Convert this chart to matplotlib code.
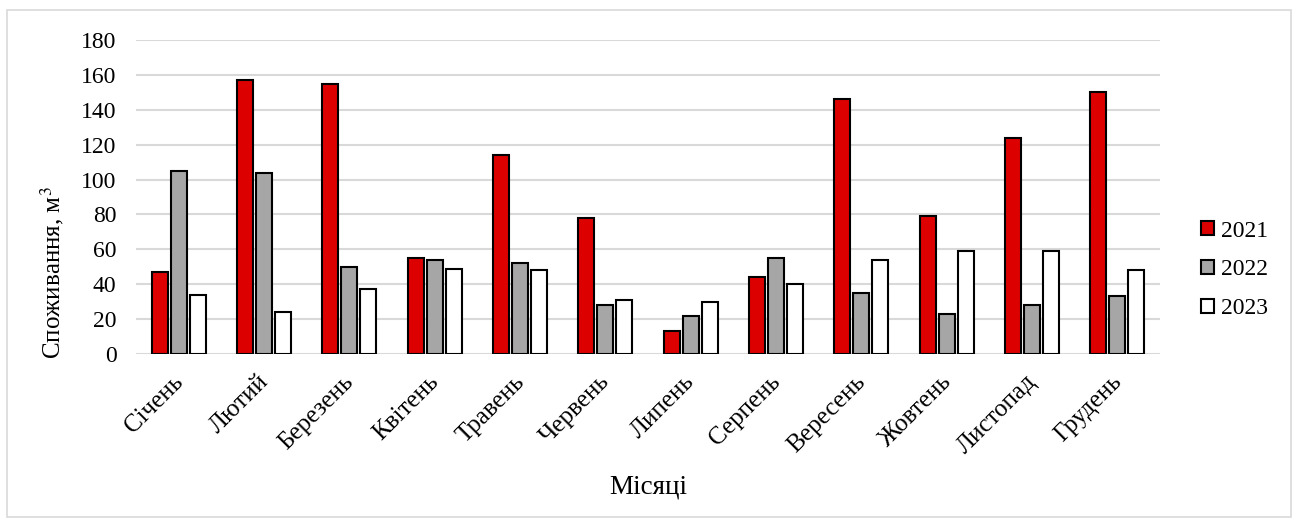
import matplotlib
matplotlib.use("Agg")
import matplotlib.pyplot as plt
import matplotlib.transforms as mtransforms
import numpy as np
from matplotlib.patches import Rectangle

plt.rcParams['font.family'] = ['Liberation Serif', 'DejaVu Serif']
plt.rcParams['mathtext.fontset'] = 'stix'

months = ["Січень", "Лютий", "Березень", "Квітень", "Травень", "Червень",
          "Липень", "Серпень", "Вересень", "Жовтень", "Листопад", "Грудень"]
years = ["2021", "2022", "2023"]
v2021 = [47, 157, 155, 55, 114, 78, 13, 44, 146, 79, 124, 150]
v2022 = [105, 104, 50, 54, 52, 28, 22, 55, 35, 23, 28, 33]
v2023 = [34, 24, 37, 49, 48, 31, 30, 40, 54, 59, 59, 48]
colors = ["#dc0000", "#a6a6a6", "#ffffff"]

W, H = 1296, 523
fig = plt.figure(figsize=(W / 100, H / 100), dpi=100)
fig.patches.append(Rectangle((7 / W, 6 / H), 1284 / W, 507 / H, transform=fig.transFigure,
                             fill=False, edgecolor="#d9d9d9", linewidth=1.2))

ax = fig.add_axes([136 / W, 1 - 354 / H, (1160 - 136) / W, (354 - 40) / H])
x = np.arange(len(months))
width = 0.19
step = 0.222
for i, (vals, c, lab) in enumerate(zip([v2021, v2022, v2023], colors, years)):
    ax.bar(x + (i - 1) * step, vals, width, color=c, edgecolor="black",
           linewidth=1.5, label=lab, zorder=3)

ax.set_xlim(-0.5, len(months) - 0.5)
ax.set_ylim(0, 180)
ax.set_yticks(range(0, 181, 20))
ax.yaxis.grid(True, color="#d9d9d9", linewidth=1.5, zorder=0)
for s in ax.spines.values():
    s.set_visible(False)
ax.tick_params(axis='both', length=0, labelsize=17)
ax.tick_params(axis='y', pad=14)
ax.set_xticks(x)
ax.set_xticklabels(months, rotation=45, ha='right', va='top', rotation_mode='anchor',
                   fontsize=18)
ax.tick_params(axis='x', pad=12)
shift = mtransforms.ScaledTranslation(-7 / 100, 0, fig.dpi_scale_trans)
for lbl in ax.get_xticklabels():
    lbl.set_transform(lbl.get_transform() + shift)

ax.set_ylabel("Споживання, м$^3$", fontsize=18)
ax.yaxis.set_label_coords(-0.068, 0.26)
ax.set_xlabel("Місяці", fontsize=19.5, labelpad=12)

leg = ax.legend(loc='center left', bbox_to_anchor=(1.040, 0.268), frameon=False,
                fontsize=17, handlelength=0.55, handleheight=0.55, handletextpad=0.3,
                labelspacing=0.75, borderpad=0, borderaxespad=0)

fig.savefig("out.png", dpi=100)
